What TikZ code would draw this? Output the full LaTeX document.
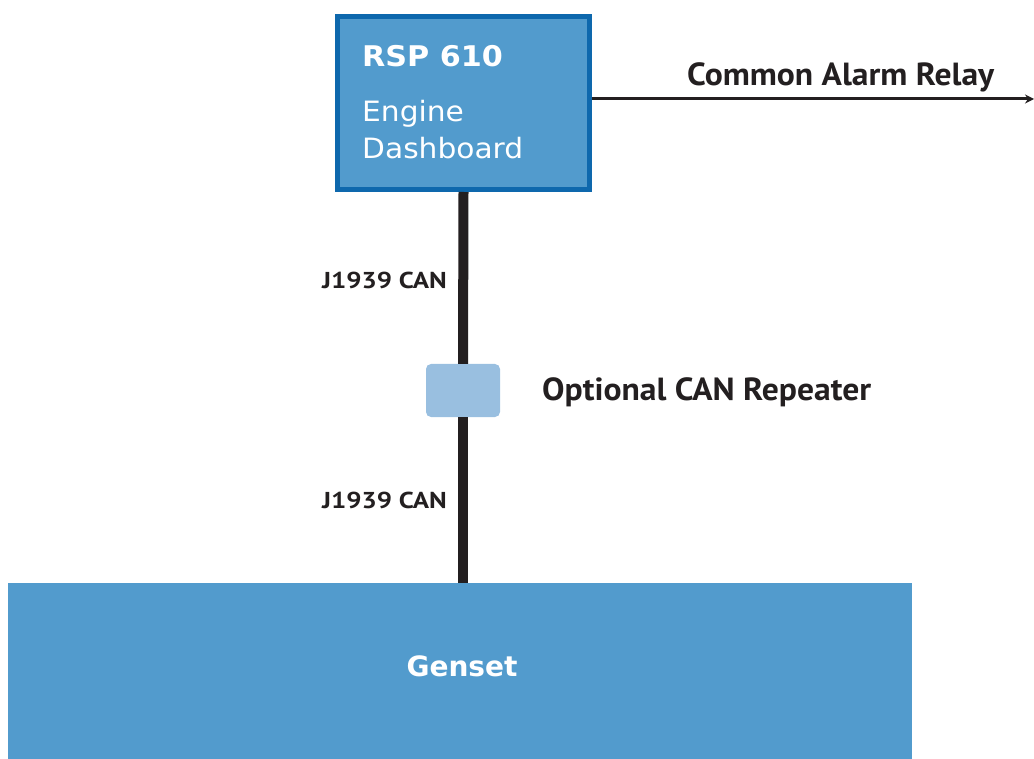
\documentclass[tikz,border=0pt]{standalone}
\usepackage{fontspec}
\setmainfont{DejaVu Sans}
\newfontfamily\lblfont{PT Sans}
\newfontfamily\lblwide{PT Sans}[FakeStretch=1.17]
\newfontfamily\lblmid{PT Sans}[FakeStretch=1.05]
\newfontfamily\dashfont{DejaVu Sans}[FakeStretch=1.06]
\usetikzlibrary{arrows.meta,calc}
\definecolor{boxblue}{HTML}{529BCD}
\definecolor{borderblue}{HTML}{0E68AD}
\definecolor{repblue}{HTML}{99BFE0}
\definecolor{linecol}{HTML}{231F20}
\tikzset{
  pxs/.style={x=1pt,y=-1pt},
  lbl/.style={font=\lblwide\bfseries\fontsize{23}{26}\selectfont, text=linecol, inner sep=0pt},
  biglbl/.style={font=\lblmid\bfseries\fontsize{32}{36}\selectfont, text=linecol, inner sep=0pt},
  wtext/.style={text=white, inner sep=0pt},
  bus/.style={draw=linecol, line width=10pt},
}
\begin{document}
\begin{tikzpicture}[pxs]
\useasboundingbox (0,0) rectangle (1034,759);
% dashboard box
\node[draw=borderblue, fill=boxblue, line width=5pt, minimum width=252pt, minimum height=173pt, inner sep=0pt] (dash) at (463.5,103) {};
\node[wtext, anchor=base west, font=\dashfont\bfseries\fontsize{28.5}{34}\selectfont] (rsp) at (362,67) {RSP 610};
\node[wtext, anchor=base west, font=\dashfont\fontsize{28}{34}\selectfont] (eng) at (362,122) {Engine};
\node[wtext, anchor=base west, font=\dashfont\fontsize{28}{34}\selectfont] (dsh) at (362,159) {Dashboard};
% repeater
\node[fill=repblue, rounded corners=5pt, minimum width=74pt, minimum height=53pt, inner sep=0pt] (rep) at (463,390.5) {};
% genset
\node[fill=boxblue, minimum width=904pt, minimum height=176pt, inner sep=0pt] (gen) at (460,671) {};
\node[wtext, font=\bfseries\fontsize{28}{34}\selectfont, anchor=base] (gtxt) at (462,676) {Genset};
% bus lines
\draw[bus] (dash.south) -- (rep.north);
\draw[bus] (rep.south) -- (rep.south |- gen.north);
% labels
\node[lbl, anchor=base east] (j1) at (447,289) {J1939 CAN};
\node[lbl, anchor=base east] (j2) at (447,508) {J1939 CAN};
\node[biglbl, anchor=base west] (optl) at (542,400) {Optional CAN Repeater};
% alarm arrow
\coordinate (alarmend) at (1034,99);
\draw[draw=linecol, line width=3pt, -{Stealth[length=9pt,width=9pt]}] (dash.east |- alarmend) -- (alarmend);
\node[biglbl, anchor=base west] (cal) at (687,86) {Common Alarm Relay};
\end{tikzpicture}
\end{document}
